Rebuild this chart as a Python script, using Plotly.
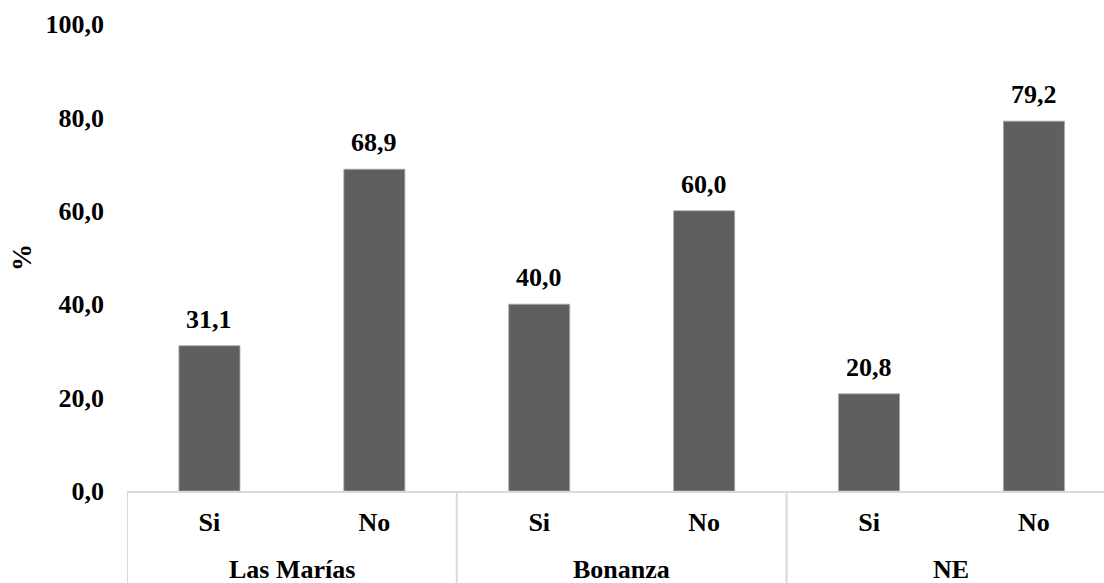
import plotly.graph_objects as go

# Survey responses by locality (percent)
localidades = ["Las Marías", "Las Marías", "Bonanza", "Bonanza", "NE", "NE"]
respuestas = ["Si", "No", "Si", "No", "Si", "No"]
porcentajes = [31.1, 68.9, 40.0, 60.0, 20.8, 79.2]
grupos = ["Las Marías", "Bonanza", "NE"]
y_ticks = [0, 20, 40, 60, 80, 100]

FONT = "Liberation Serif"
BAR_COLOR = "#5f5f5f"
AXIS_GRAY = "#d9d9d9"

# one unique category per bar, labelled with its answer
claves = [f"{g}|{r}" for g, r in zip(localidades, respuestas)]

fig = go.Figure(
    go.Bar(
        x=claves,
        y=porcentajes,
        marker=dict(color=BAR_COLOR, line=dict(color="#a6a6a6", width=0.8)),
        hoverinfo="y",
    )
)

# value labels above each bar, decimal comma
for k, v in zip(claves, porcentajes):
    fig.add_annotation(
        x=k,
        y=v,
        xref="x",
        yref="y",
        yanchor="bottom",
        yshift=10,
        text="<b>" + f"{v:.1f}".replace(".", ",") + "</b>",
        showarrow=False,
        font=dict(family=FONT, size=26, color="black"),
    )

fig.update_layout(
    width=1104,
    height=583,
    margin=dict(l=127, r=0, t=24, b=92),
    plot_bgcolor="white",
    paper_bgcolor="white",
    separators=",.",
    bargap=0.63,
    showlegend=False,
    font=dict(family=FONT, size=26, color="black"),
)

fig.update_xaxes(
    type="category",
    categoryorder="array",
    categoryarray=claves,
    tickvals=claves,
    ticktext=[f"<b>{r}</b>" for r in respuestas],
    range=[-0.5, 5.425],
    showline=True,
    linecolor=AXIS_GRAY,
    linewidth=2,
    ticks="",
    ticklabelstandoff=7,
    tickfont=dict(family=FONT, size=26, color="black"),
    showgrid=False,
    automargin=False,
)

fig.update_yaxes(
    range=[0, 100],
    tickvals=y_ticks,
    tickformat=".1f",
    showgrid=False,
    zeroline=False,
    showline=False,
    ticks="",
    ticklabelstandoff=22,
    tickfont=dict(family=FONT, size=26, color="black", weight="bold"),
    automargin=False,
)

# y-axis title, rotated, centred on the plot height
fig.add_annotation(
    x=-0.108,
    xref="paper",
    y=0.5,
    yref="paper",
    xanchor="center",
    yanchor="middle",
    text="<b>%</b>",
    textangle=-90,
    showarrow=False,
    font=dict(family=FONT, size=27, color="black"),
)

# group labels under the answer labels
n_sub = len(respuestas) // len(grupos)
for i, g in enumerate(grupos):
    fig.add_annotation(
        x=i * n_sub + (n_sub - 1) / 2,
        xref="x",
        y=-0.168,
        yref="paper",
        yanchor="middle",
        text=f"<b>{g}</b>",
        showarrow=False,
        font=dict(family=FONT, size=26, color="black"),
    )

# vertical dividers between groups, running down from the axis line
for i in range(len(grupos) + 1):
    fig.add_shape(
        type="line",
        xref="x",
        yref="paper",
        x0=i * n_sub - 0.5,
        x1=i * n_sub - 0.5,
        y0=0,
        y1=-0.25,
        line=dict(color=AXIS_GRAY, width=2),
    )

fig.write_html("out.html")
